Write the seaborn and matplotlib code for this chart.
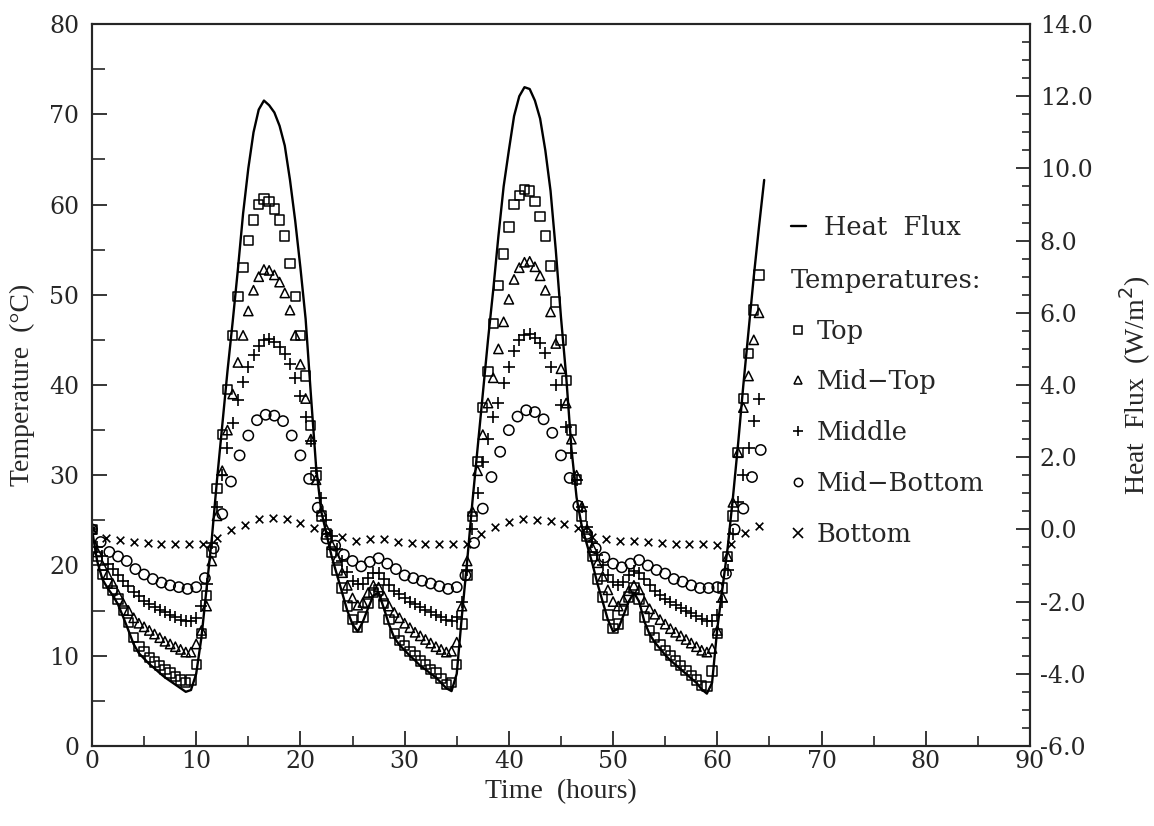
import numpy as np
import pandas as pd
import matplotlib
matplotlib.use('Agg')
import matplotlib.pyplot as plt
import seaborn as sns
from matplotlib.lines import Line2D
from matplotlib.ticker import MultipleLocator, FormatStrFormatter

# sampling steps (hours) of the plotted series
STEP_FINE = 0.5      # Top, Mid-Top, Middle, heat flux
STEP_MIDBOT = 5 / 6  # Mid-Bottom
STEP_BOT = 4 / 3     # Bottom

# heat flux (W/m^2), every 0.5 h from 0 to 64.5 h
heat_flux = [
    0.00, -0.88, -1.38, -1.63, -1.83, -2.08, -2.43, -2.80, -3.18, -3.43,
    -3.58, -3.73, -3.85, -3.98, -4.10, -4.20, -4.30, -4.40, -4.50, -4.45,
    -4.00, -3.00, -1.63, -0.25, 1.38, 2.88, 4.38, 5.75, 7.20, 8.75,
    10.00, 11.00, 11.63, 11.88, 11.75, 11.55, 11.18, 10.63, 9.68, 8.55,
    7.25, 5.83, 3.75, 1.75, 0.50, -0.13, -0.75, -1.25, -1.75, -2.25,
    -2.63, -2.83, -2.55, -2.18, -1.83, -1.75, -2.18, -2.63, -3.00, -3.20,
    -3.35, -3.50, -3.63, -3.78, -3.88, -4.00, -4.10, -4.25, -4.40, -4.48,
    -4.00, -2.38, -0.88, 0.75, 2.25, 3.75, 5.25, 6.63, 8.13, 9.50,
    10.50, 11.45, 12.00, 12.25, 12.20, 11.88, 11.38, 10.50, 9.38, 7.75,
    5.88, 4.25, 2.25, 0.88, 0.08, -0.43, -0.93, -1.50, -2.00, -2.50,
    -2.83, -2.75, -2.38, -2.00, -1.75, -2.00, -2.55, -2.90, -3.13, -3.30,
    -3.48, -3.63, -3.75, -3.88, -4.00, -4.13, -4.25, -4.43, -4.55, -4.25,
    -2.75, -1.63, -0.50, 0.88, 2.38, 4.00, 5.50, 7.00, 8.38, 9.68,
]

# temperatures (deg C)
temp_top = [
    24.0, 21.0, 19.0, 18.0, 17.2, 16.3, 15.0, 13.7, 12.0, 11.0,
    10.5, 9.8, 9.3, 8.9, 8.5, 8.1, 7.7, 7.3, 7.0, 7.3,
    9.0, 12.5, 16.7, 21.5, 28.5, 34.5, 39.5, 45.5, 49.8, 53.0,
    56.0, 58.3, 60.0, 60.6, 60.3, 59.5, 58.3, 56.5, 53.5, 49.8,
    45.5, 41.0, 35.5, 30.0, 25.5, 23.5, 21.5, 19.5, 17.5, 15.5,
    14.0, 13.2, 14.3, 15.8, 17.0, 17.3, 15.8, 14.0, 12.5, 11.7,
    11.1, 10.5, 10.0, 9.4, 9.0, 8.5, 8.1, 7.5, 6.8, 7.0,
    9.0, 13.5, 18.9, 25.4, 31.5, 37.5, 41.5, 46.8, 51.0, 54.5,
    57.5, 60.0, 61.0, 61.7, 61.5, 60.3, 58.7, 56.5, 53.2, 49.2,
    45.0, 40.5, 35.0, 29.5, 25.5, 23.2, 21.0, 18.5, 16.5, 14.5,
    13.0, 13.5, 15.0, 16.5, 17.5, 16.3, 14.3, 12.8, 12.0, 11.2,
    10.6, 10.0, 9.4, 8.9, 8.4, 7.8, 7.3, 6.7, 6.6, 8.3,
    12.5, 17.5, 21.0, 25.5, 32.5, 38.5, 43.5, 48.3, 52.2,
]
temp_midtop = [
    24.0, 21.5, 20.0, 19.0, 18.0, 16.8, 15.8, 15.0, 14.2, 13.6,
    13.2, 12.8, 12.4, 12.0, 11.6, 11.3, 11.0, 10.7, 10.4, 10.4,
    11.3, 12.8, 15.5, 20.5, 25.5, 30.5, 35.0, 39.0, 42.5, 45.5,
    48.2, 50.5, 52.0, 52.8, 52.7, 52.2, 51.4, 50.2, 48.3, 45.5,
    42.3, 38.5, 34.0, 29.5, 26.0, 24.0, 22.3, 20.8, 19.2, 17.8,
    16.4, 15.6, 15.9, 17.0, 17.8, 17.6, 16.6, 15.5, 14.8, 14.2,
    13.6, 13.1, 12.6, 12.2, 11.8, 11.4, 11.0, 10.7, 10.4, 10.5,
    11.5, 15.5, 20.5, 26.0, 30.5, 34.5, 38.0, 40.8, 44.0, 47.0,
    49.5, 51.7, 53.0, 53.6, 53.7, 53.1, 52.1, 50.5, 48.1, 44.6,
    41.8, 38.0, 34.0, 30.0, 26.5, 24.0, 22.0, 20.3, 18.8, 17.3,
    16.0, 15.5, 16.2, 17.2, 17.8, 17.3, 16.0, 15.2, 14.6, 14.0,
    13.5, 13.0, 12.6, 12.2, 11.8, 11.4, 11.0, 10.6, 10.4, 10.8,
    12.8, 16.5, 21.0, 27.0, 32.5, 37.5, 41.0, 45.0, 48.0,
]
temp_middle = [
    24.0, 22.0, 21.0, 20.2, 19.6, 19.0, 18.3, 17.7, 17.1, 16.6,
    16.1, 15.7, 15.4, 15.1, 14.8, 14.5, 14.3, 14.0, 13.8, 13.8,
    14.2, 15.5, 18.0, 22.5, 26.5, 30.0, 33.0, 35.8, 38.3, 40.3,
    42.0, 43.3, 44.3, 45.0, 45.1, 44.8, 44.2, 43.4, 42.3, 40.8,
    38.8, 36.5, 33.8, 30.8, 27.5, 25.0, 23.3, 21.8, 20.5, 19.3,
    18.3, 17.9, 18.0, 18.6, 19.2, 19.2, 18.5, 17.8, 17.2, 16.8,
    16.4, 16.0, 15.7, 15.4, 15.1, 14.8, 14.5, 14.3, 14.0, 13.9,
    14.3, 16.0, 19.5, 24.0, 28.0, 31.5, 34.0, 36.5, 38.0, 40.2,
    42.0, 43.8, 45.0, 45.5, 45.6, 45.2, 44.6, 43.5, 42.0, 40.0,
    37.8, 35.3, 32.5, 29.5, 26.5, 24.3, 22.6, 21.2, 20.0, 19.0,
    18.2, 17.8, 18.2, 18.9, 19.4, 19.2, 18.5, 17.8, 17.2, 16.7,
    16.3, 15.9, 15.6, 15.3, 15.0, 14.7, 14.4, 14.1, 13.9, 13.9,
    14.5, 16.0, 19.5, 23.5, 27.0, 30.0, 33.0, 36.0, 38.5,
]
temp_midbottom = [
    24.0, 22.6, 21.5, 21.0, 20.5, 19.6, 19.0, 18.5, 18.1, 17.8,
    17.6, 17.4, 17.6, 18.6, 21.9, 25.7, 29.3, 32.2, 34.4, 36.1,
    36.7, 36.6, 36.0, 34.4, 32.2, 29.6, 26.4, 23.0, 22.2, 21.2,
    20.5, 19.9, 20.4, 20.8, 20.2, 19.6, 18.9, 18.6, 18.3, 18.0,
    17.7, 17.4, 17.6, 18.9, 22.5, 26.3, 29.8, 32.6, 35.0, 36.5,
    37.2, 37.0, 36.2, 34.7, 32.2, 29.7, 26.6, 23.5, 21.9, 20.9,
    20.2, 19.8, 20.2, 20.6, 20.0, 19.5, 19.1, 18.5, 18.2, 17.8,
    17.5, 17.5, 17.6, 19.1, 24.0, 26.3, 29.8, 32.8,
]
temp_bottom = [
    24.0, 23.0, 22.8, 22.6, 22.5, 22.4, 22.4, 22.4, 22.4, 23.1,
    23.9, 24.5, 25.1, 25.3, 25.1, 24.7, 24.2, 23.6, 23.2, 22.7,
    22.9, 22.9, 22.6, 22.5, 22.4, 22.4, 22.4, 22.4, 23.5, 24.3,
    24.8, 25.2, 25.0, 24.9, 24.6, 24.1, 23.2, 22.9, 22.7, 22.7,
    22.6, 22.5, 22.4, 22.4, 22.4, 22.3, 22.4, 23.6, 24.4,
]

series_names = ['Top', 'Mid\u2212Top', 'Middle', 'Mid\u2212Bottom', 'Bottom']
series_markers = ['s', '^', '+', 'o', 'x']

sns.set_theme(style='ticks')
plt.rcParams['font.family'] = ['DejaVu Serif']
plt.rcParams['axes.linewidth'] = 1.5

fig = plt.figure(figsize=(11.54, 8.26), dpi=100)
ax = fig.add_axes([0.0797, 0.0969, 0.8128, 0.8740])
ax2 = ax.twinx()

# temperature markers
temps = [
    (temp_top, STEP_FINE, 45),
    (temp_midtop, STEP_FINE, 45),
    (temp_middle, STEP_FINE, 65),
    (temp_midbottom, STEP_MIDBOT, 55),
    (temp_bottom, STEP_BOT, 30),
]
for (vals, step, size), name, mk in zip(temps, series_names, series_markers):
    df = pd.DataFrame({'hours': np.arange(len(vals)) * step, 'temp': vals})
    if mk in ('+', 'x'):
        sns.scatterplot(data=df, x='hours', y='temp', ax=ax, marker=mk, s=size,
                        color='black', linewidth=1.2, zorder=3)
    else:
        sns.scatterplot(data=df, x='hours', y='temp', ax=ax, marker=mk, s=size,
                        facecolor='none', edgecolor='black', linewidth=1.1, zorder=3)

# heat flux line
flux_df = pd.DataFrame({'hours': np.arange(len(heat_flux)) * STEP_FINE, 'flux': heat_flux})
sns.lineplot(data=flux_df, x='hours', y='flux', ax=ax2, color='black', linewidth=1.7)

ax.set_xlim(0, 90)
ax.set_ylim(0, 80)
ax2.set_ylim(-6, 14)

ax.xaxis.set_major_locator(MultipleLocator(10))
ax.xaxis.set_minor_locator(MultipleLocator(5))
ax.yaxis.set_major_locator(MultipleLocator(10))
ax.yaxis.set_minor_locator(MultipleLocator(5))
ax2.yaxis.set_major_locator(MultipleLocator(2))
ax2.yaxis.set_minor_locator(MultipleLocator(0.5))
ax2.yaxis.set_major_formatter(FormatStrFormatter('%.1f'))

ax.tick_params(axis='x', which='both', direction='in', top=False, labelsize=17, pad=3)
ax.tick_params(axis='x', which='major', length=11, width=1.3)
ax.tick_params(axis='x', which='minor', length=7, width=1.2)
ax.tick_params(axis='y', which='both', direction='in', right=False, labelsize=17, pad=9)
ax.tick_params(axis='y', which='major', length=11, width=1.3)
ax.tick_params(axis='y', which='minor', length=9, width=1.2)
ax2.tick_params(axis='y', which='both', direction='in', left=False, labelsize=17, pad=7)
ax2.tick_params(axis='y', which='major', length=10, width=1.3)
ax2.tick_params(axis='y', which='minor', length=6, width=1.2)

label_font = {'family': ['Liberation Serif', 'DejaVu Serif'], 'size': 20}
ax.set_xlabel('Time  (hours)', fontdict=label_font, labelpad=4)
ax.set_ylabel('Temperature  (°C)', fontdict=label_font, labelpad=10)
ax2.set_ylabel('Heat  Flux  (W/m$^2$)', fontdict=label_font, labelpad=18)

# legend
flux_handle = [Line2D([0], [0], color='black', linewidth=1.7)]
leg1 = ax2.legend(flux_handle, ['Heat  Flux'], loc='upper left',
                  bbox_to_anchor=(0.745, 0.736), frameon=False, fontsize=18.5,
                  handlelength=0.6, handletextpad=0.7, borderpad=0, borderaxespad=0)
ax2.add_artist(leg1)

temp_handles = []
for name, mk in zip(series_names, series_markers):
    if mk in ('+', 'x'):
        h = Line2D([0], [0], linestyle='none', marker=mk, color='black',
                   markersize=7, markeredgewidth=1.2)
    else:
        h = Line2D([0], [0], linestyle='none', marker=mk, markerfacecolor='none',
                   markeredgecolor='black', markersize=6, markeredgewidth=1.1)
    temp_handles.append(h)
leg2 = ax2.legend(temp_handles, series_names, title='Temperatures:', alignment='left',
                  fontsize=18.5, loc='upper left',
                  bbox_to_anchor=(0.745, 0.662), frameon=False,
                  handlelength=0.6, handletextpad=0.4, labelspacing=1.0,
                  borderpad=0, borderaxespad=0)
leg2.get_title().set_fontsize(18.5)

fig.savefig('out.png', dpi=100, facecolor='white')
